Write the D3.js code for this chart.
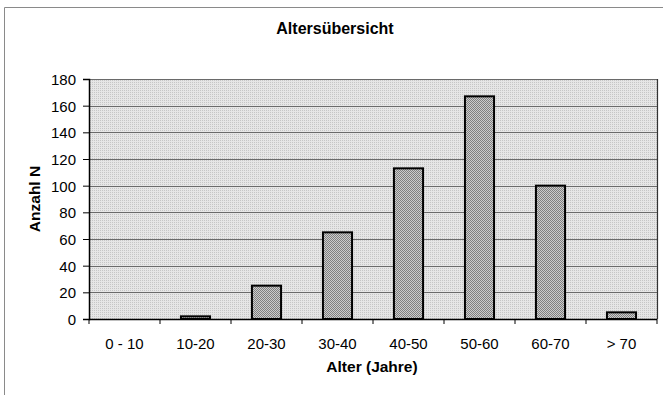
<!DOCTYPE html>
<html><head><meta charset="utf-8">
<script src="https://cdn.jsdelivr.net/npm/d3@7"></script>
<style>body{margin:0;background:#fff}svg{display:block;font-family:"Liberation Sans",Arial,sans-serif}</style>
</head><body><svg id="c" width="663" height="395"></svg>
<script>
const categories = ["0 - 10","10-20","20-30","30-40","40-50","50-60","60-70","> 70"];
const values = [0, 2, 25, 65, 113, 167, 100, 5];
const yTicks = [0,20,40,60,80,100,120,140,160,180];
const title = "Altersübersicht";
const xTitle = "Alter (Jahre)";
const yTitle = "Anzahl N";

const svg = d3.select("#c");
const m = {l:89, r:657, t:79, b:319};
const defs = svg.append("defs");
const p1 = defs.append("pattern").attr("id","bg").attr("width",2).attr("height",2).attr("patternUnits","userSpaceOnUse");
p1.append("rect").attr("width",2).attr("height",2).attr("fill","#e6e6e6");
p1.append("rect").attr("width",1).attr("height",1).attr("fill","#c6c6c6");
const p2 = defs.append("pattern").attr("id","bar").attr("width",2).attr("height",2).attr("patternUnits","userSpaceOnUse");
p2.append("rect").attr("width",2).attr("height",2).attr("fill","#cccccc");
p2.append("rect").attr("width",1).attr("height",1).attr("fill","#808080");
p2.append("rect").attr("x",1).attr("y",1).attr("width",1).attr("height",1).attr("fill","#808080");

// outer frame
svg.append("path").attr("d","M4.5,395 V7.5 H663").attr("fill","none").attr("stroke","#8a8a8a").attr("stroke-width",1);

const x = d3.scaleBand().domain(categories).range([m.l,m.r]).paddingInner(0.59).paddingOuter(0.295);
const xb = d3.scaleBand().domain(categories).range([m.l,m.r]);
const y = d3.scaleLinear().domain([0,180]).range([m.b,m.t]);

svg.append("rect").attr("x",m.l).attr("y",m.t).attr("width",m.r-m.l).attr("height",m.b-m.t).attr("fill","url(#bg)");

// gridlines
svg.append("g").selectAll("line").data(yTicks.filter(d=>d>0)).join("line")
  .attr("x1",m.l).attr("x2",m.r).attr("y1",d=>Math.round(y(d))+0.5).attr("y2",d=>Math.round(y(d))+0.5)
  .attr("stroke","#6a6a6a").attr("stroke-width",1);
// right border
svg.append("line").attr("x1",m.r+0.5).attr("x2",m.r+0.5).attr("y1",m.t).attr("y2",m.b).attr("stroke","#333").attr("stroke-width",1.2);

// bars
svg.append("g").selectAll("rect").data(values).join("rect")
  .attr("x",(d,i)=>x(categories[i]))
  .attr("y",d=>y(d))
  .attr("width",x.bandwidth())
  .attr("height",d=>y(0)-y(d))
  .attr("fill","url(#bar)").attr("stroke","#000").attr("stroke-width",2);

// y axis
const ya = d3.axisLeft(y).tickValues(yTicks).tickSize(6).tickPadding(7);
const gy = svg.append("g").attr("transform",`translate(${m.l},0)`).call(ya);
gy.attr("font-size",null).attr("font-family",null);
gy.select(".domain").attr("stroke","#000").attr("stroke-width",1.5);
gy.selectAll(".tick line").attr("stroke","#000");
gy.selectAll("text").style("font-size","15px").attr("fill","#000").attr("dy","0.36em");

// x axis
const gx = svg.append("g").attr("transform",`translate(0,${m.b})`);
gx.append("line").attr("x1",m.l).attr("x2",m.r).attr("y1",0.5).attr("y2",0.5).attr("stroke","#000").attr("stroke-width",1.5);
gx.selectAll(".tk").data(categories.concat(["__end"])).join("line").attr("class","tk")
  .attr("x1",(d,i)=>i<categories.length?xb(d):m.r).attr("x2",(d,i)=>i<categories.length?xb(d):m.r)
  .attr("y1",0).attr("y2",5).attr("stroke","#000");
gx.selectAll("text").data(categories).join("text")
  .attr("x",d=>xb(d)+xb.bandwidth()/2).attr("y",30).attr("text-anchor","middle")
  .style("font-size","15px").attr("fill","#000").text(d=>d);

// titles
svg.append("text").attr("x",335).attr("y",34).attr("text-anchor","middle").style("font-size","16px").attr("font-weight","bold").text(title);
svg.append("text").attr("x",372).attr("y",372).attr("text-anchor","middle").style("font-size","15.5px").attr("font-weight","bold").text(xTitle);
svg.append("text").attr("transform","translate(40,199) rotate(-90)").attr("text-anchor","middle").style("font-size","15.5px").attr("font-weight","bold").text(yTitle);
</script></body></html>
